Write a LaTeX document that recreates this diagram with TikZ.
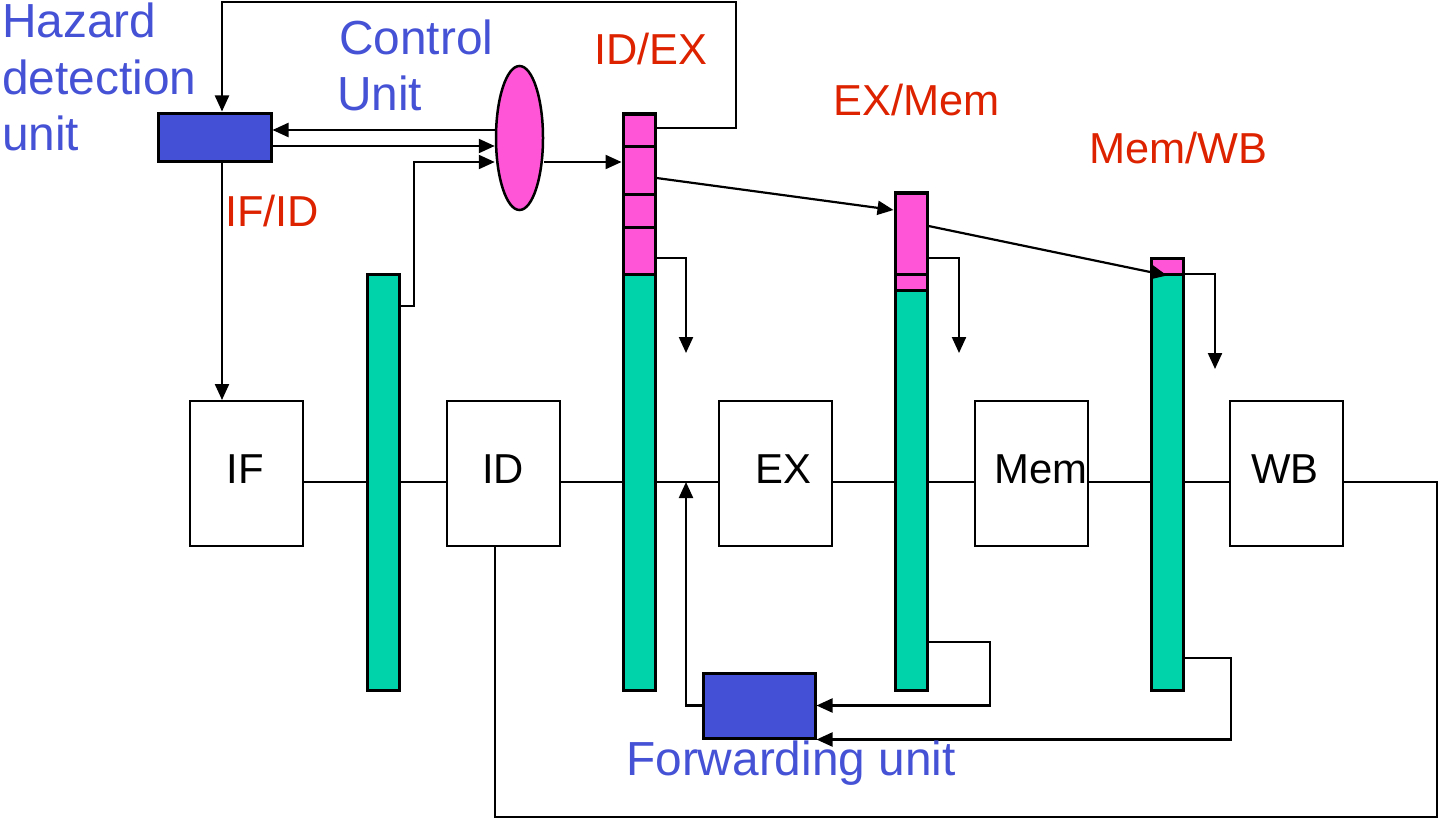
\documentclass[tikz,border=0pt]{standalone}
\usepackage{fontspec}
\setmainfont{Liberation Sans}
\usetikzlibrary{arrows.meta,shapes.geometric,calc}
\definecolor{hblue}{RGB}{68,80,213}
\definecolor{tblue}{RGB}{70,82,214}
\definecolor{ppink}{RGB}{255,85,214}
\definecolor{tteal}{RGB}{0,210,170}
\definecolor{lred}{RGB}{221,34,0}
\tikzset{
  conn/.style={line width=2.2bp, draw=black},
  arr/.style={conn, -{Triangle[length=16bp,width=14bp]}},
  stage/.style={draw, line width=2bp, fill=white, minimum width=113bp, minimum height=145bp, inner sep=0pt},
  bar/.style={draw, line width=3bp, fill=tteal, minimum width=32bp, inner sep=0pt},
  cell/.style={draw, line width=3bp, fill=ppink, minimum width=32bp, inner sep=0pt},
  unitbox/.style={draw, line width=3bp, fill=hblue, inner sep=0pt},
  bluetxt/.style={text=tblue, font=\fontsize{48}{56}\selectfont, inner sep=0pt, anchor=base west},
  redtxt/.style={text=lred, font=\fontsize{43.5}{50}\selectfont, inner sep=0pt, anchor=base west},
  stagetxt/.style={font=\fontsize{42}{50}\selectfont, inner sep=0pt, anchor=base}
}
\begin{document}
\begin{tikzpicture}[x=1bp,y=-1bp]
\useasboundingbox (0,0) rectangle (1439,819);
% helper coordinates
\coordinate (m) at (0,482);
\coordinate (xh) at (222,0);
\coordinate (xtop) at (736,2);
\coordinate (x414) at (414,0);
\coordinate (x495) at (495,0);
\coordinate (x686) at (686,0);
\coordinate (x990) at (990,0);
\coordinate (x1231) at (1231,0);
\coordinate (corner) at (1437,817);
\coordinate (yA) at (0,130);
\coordinate (yB) at (0,146);
\coordinate (yC) at (0,162);
\coordinate (yD) at (0,306);
\coordinate (y128) at (0,128);
\coordinate (y178) at (0,178);
\coordinate (y210) at (0,210);
\coordinate (y226) at (0,226);
\coordinate (y258) at (0,258);
\coordinate (y274) at (0,274);
\coordinate (y642) at (0,642);
\coordinate (y658) at (0,658);
\coordinate (o1) at (686,353);
\coordinate (o2) at (959,353);
\coordinate (o3) at (1215,369);

% stage boxes
\node[stage] (IF) at (246.5,473.5) {};
\node[stage] (ID) at (503,473.5) {};
\node[stage] (EX) at (775,473.5) {};
\node[stage] (Mem) at (1031,473.5) {};
\node[stage] (WB) at (1286,473.5) {};

% pipeline registers
\node[bar, minimum height=416bp] (b1) at (383,482) {};
\node[bar, minimum height=576bp] (b2) at (639,402) {};
\node[cell, minimum height=32bp] (c21) at (639,130) {};
\node[cell, minimum height=48bp] (c22) at (639,170) {};
\node[cell, minimum height=33bp] (c23) at (639,210.5) {};
\node[cell, minimum height=47bp] (c24) at (639,250.5) {};
\node[bar, minimum height=497bp] (b3) at (911,441.5) {};
\node[cell, minimum height=81bp] (c31) at (911,233.5) {};
\node[cell, minimum height=16bp] (c32) at (911,282) {};
\node[bar, minimum height=432bp] (b4) at (1167,474) {};
\node[cell, minimum height=16bp] (c41) at (1167,266) {};

% units
\node[unitbox, minimum width=113bp, minimum height=48bp] (hz) at (214.5,137) {};
\node[unitbox, minimum width=112bp, minimum height=65bp] (fw) at (759,705.5) {};
\node[ellipse, draw, line width=2.5bp, fill=ppink, minimum width=47bp, minimum height=144bp, inner sep=0pt] (ctrl) at (519.5,138) {};

% main datapath line
\draw[conn] (IF.east |- m) -- (b1.west |- m);
\draw[conn] (b1.east |- m) -- (ID.west |- m);
\draw[conn] (ID.east |- m) -- (b2.west |- m);
\draw[conn] (b2.east |- m) -- (EX.west |- m);
\draw[conn] (EX.east |- m) -- (b3.west |- m);
\draw[conn] (b3.east |- m) -- (Mem.west |- m);
\draw[conn] (Mem.east |- m) -- (b4.west |- m);
\draw[conn] (b4.east |- m) -- (WB.west |- m);
\draw[conn] (WB.east |- m) -| (corner) -| (ID.south -| x495);

% hazard / control connections
\draw[arr] (b2.east |- y128) -| (xtop) -| (hz.north -| xh);
\draw[arr] (ctrl.west |- yA) -- (hz.east |- yA);
\draw[arr] (hz.east |- yB) -- (ctrl.west |- yB);
\draw[arr] (b1.east |- yD) -| (x414 |- yC) -- (ctrl.west |- yC);
\draw[arr] (ctrl.east |- yC) -- (b2.west |- yC);
\draw[arr] (hz.south -| xh) -- (IF.north -| xh);

% control signals down the pipeline
\draw[arr] (b2.east |- y178) -- (b3.west |- y210);
\draw[arr] (b3.east |- y226) -- (c41.south);
\draw[arr] (b2.east |- y258) -| (o1);
\draw[arr] (b3.east |- y258) -| (o2);
\draw[arr] (b4.east |- y274) -| (o3);

% forwarding unit connections
\draw[arr] (fw.west) -| (x686 |- m);
\draw[arr] (b3.east |- y642) -| (x990 |- fw.east) -- (fw.east);
\draw[arr] (b4.east |- y658) -| (x1231 |- fw.south east) -- (fw.south east);

% texts
\node[bluetxt] (t1) at (2,38) {Hazard};
\node[bluetxt] (t2) at (2,94) {detection};
\node[bluetxt] (t3) at (2,150) {unit};
\node[bluetxt] (t4) at (339,55) {Control};
\node[bluetxt] (t5) at (337,110) {Unit};
\node[bluetxt] (t6) at (626,775) {Forwarding unit};
\node[redtxt] (r1) at (594,65) {ID/EX};
\node[redtxt] (r2) at (833,115) {EX/Mem};
\node[redtxt] (r3) at (1089,163) {Mem/WB};
\node[redtxt] (r4) at (225,226) {IF/ID};
\node[stagetxt] (s1) at (245,483) {IF};
\node[stagetxt] (s2) at (503,483) {ID};
\node[stagetxt] (s3) at (783,483) {EX};
\node[stagetxt] (s4) at (1041,483) {Mem};
\node[stagetxt] (s5) at (1285,483) {WB};
\end{tikzpicture}
\end{document}
